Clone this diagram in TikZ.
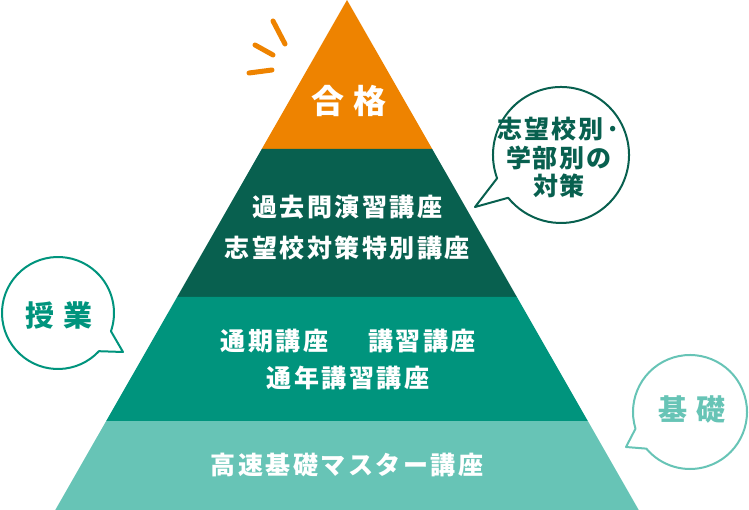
\documentclass[tikz,border=0pt]{standalone}
\usepackage{fontspec}
\usepackage{tikz}
\usetikzlibrary{calc}
\newfontfamily\jpfont{Noto Sans CJK JP}[LetterSpace=10]
\newfontfamily\jptop{Noto Sans CJK JP}[LetterSpace=30]
\newfontfamily\jpwide{Noto Sans CJK JP}[LetterSpace=28]
\newfontfamily\jpnote{Noto Sans CJK JP}[LetterSpace=8]
\definecolor{passorange}{HTML}{EE8300}
\definecolor{darkgreen}{HTML}{08604F}
\definecolor{midteal}{HTML}{00947D}
\definecolor{lightteal}{HTML}{67C4B6}

\begin{document}
\begin{tikzpicture}[x=1pt,y=-1pt,
    course/.style={text=white, align=center, inner sep=0pt, font=\jpfont\bfseries\fontsize{25}{41}\selectfont},
    bubble/.style={draw=#1, fill=white, line width=2pt, line join=round},
    bubbletext/.style={text=#1, align=center, inner sep=0pt, font=\jpnote\bfseries\fontsize{25}{28.5}\selectfont},
    ray/.style={draw=passorange, line width=5pt, line cap=round}]
    \useasboundingbox (0,0) rectangle (749,510);

    \fill[passorange] (347,0) -- ({347-0.572*149},149) -- ({347+0.572*149},149) -- cycle;
    \fill[darkgreen] ({347-0.572*149},149) -- ({347+0.572*149},149) -- ({347+0.572*297},297) -- ({347-0.572*297},297) -- cycle;
    \fill[midteal] ({347-0.572*297},297) -- ({347+0.572*297},297) -- ({347+0.572*421},421) -- ({347-0.572*421},421) -- cycle;
    \fill[lightteal] ({347-0.572*421},421) -- ({347+0.572*421},421) -- ({347+0.572*510},510) -- ({347-0.572*510},510) -- cycle;

    \draw[ray] (273,21) -- (285,44);
    \draw[ray] (255,45) -- (273,55);
    \draw[ray] (249,73) -- (272,70);

    \node[text=white, inner sep=0pt, font=\jptop\bfseries\fontsize{33}{40}\selectfont] (pass) at (349,101) {合格};
    \node[course] (exam) at (347,228) {過去問演習講座\\志望校対策特別講座};
    \node[course, font=\jpfont\bfseries\fontsize{25}{37}\selectfont] (regular) at (348,360) {通期講座\hspace{40pt}講習講座\\通年講習講座};
    \node[course] (basic) at (347,465) {高速基礎マスター講座};

    \coordinate (targetC) at (561,155);
    \coordinate (targetT) at (475,207);
    \draw[bubble=darkgreen] ($(targetC)+(160:68)$) arc[start angle=160, end angle=501, radius=68] -- (targetT) -- cycle;
    \node[bubbletext=darkgreen] (target) at (559,158) {志望校別·\\学部別の\\対策};

    \coordinate (lessonC) at (58,313);
    \coordinate (lessonT) at (123,352);
    \draw[bubble=midteal] ($(lessonC)+(43:56)$) arc[start angle=43, end angle=379, radius=56] -- (lessonT) -- cycle;
    \node[text=midteal, inner sep=0pt, font=\jpwide\bfseries\fontsize{29}{34}\selectfont] (lesson) at (59,315) {授業};

    \coordinate (baseC) at (690,412);
    \coordinate (baseT) at (626,447);
    \draw[bubble=lightteal] ($(baseC)+(163:57)$) arc[start angle=163, end angle=500, radius=57] -- (baseT) -- cycle;
    \node[text=lightteal, inner sep=0pt, font=\jpwide\bfseries\fontsize{29}{34}\selectfont] (base) at (692,410) {基礎};
\end{tikzpicture}
\end{document}
